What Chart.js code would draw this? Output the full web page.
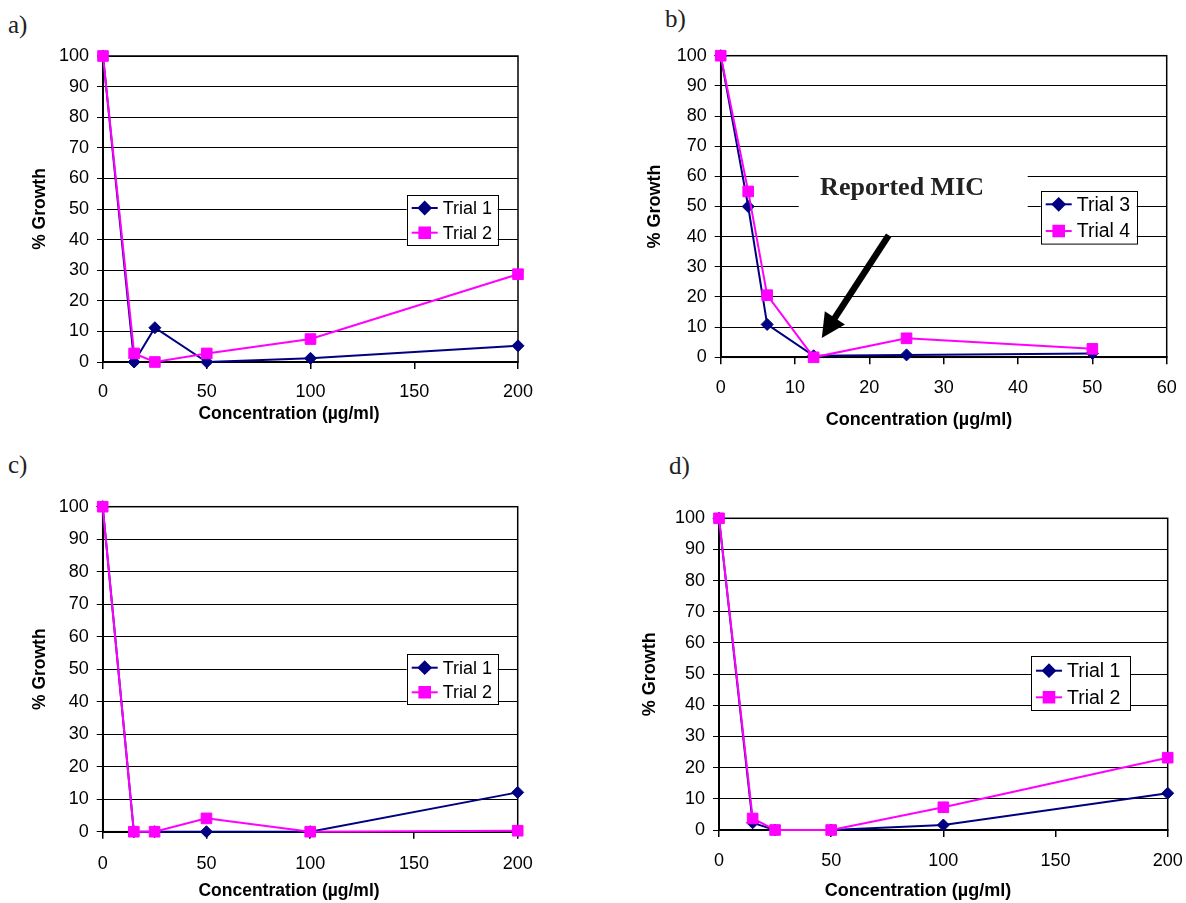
<!DOCTYPE html>
<html>
<head>
<meta charset="utf-8">
<script src="https://cdn.jsdelivr.net/npm/chart.js@4.4.0/dist/chart.umd.min.js"></script>
<style>
  body { margin: 0; background: #fff; width: 1186px; height: 903px; position: relative; overflow: hidden; }
  .panel { position: absolute; }
  .tag { position: absolute; font-family: "Liberation Serif", serif; font-size: 25px; line-height: 25px; color: #222; }
</style>
</head>
<body>
<div class="tag" style="left:8px;top:12px">a)</div>
<div class="tag" style="left:665px;top:6px">b)</div>
<div class="tag" style="left:8px;top:452px">c)</div>
<div class="tag" style="left:669px;top:453px">d)</div>

<canvas id="chartA" class="panel" width="593" height="440" style="left:0;top:0"></canvas>
<canvas id="chartB" class="panel" width="593" height="440" style="left:593px;top:0"></canvas>
<canvas id="chartC" class="panel" width="593" height="463" style="left:0;top:440px"></canvas>
<canvas id="chartD" class="panel" width="593" height="463" style="left:593px;top:440px"></canvas>

<script>
// concentrations (µg/ml)
const conc = [0, 15, 25, 50, 100, 200];
const concB = [0, 3.7, 6.25, 12.5, 25, 50];

// % growth
const aTrial1 = [100, 0, 11.2, 0, 1.2, 5.3];
const aTrial2 = [100, 2.8, 0, 2.8, 7.5, 28.7];
const bTrial3 = [100, 50, 10.9, 0.5, 0.8, 1.3];
const bTrial4 = [100, 55, 20.6, 0, 6.3, 2.8];
const cTrial1 = [100, 0, 0, 0, 0, 12.1];
const cTrial2 = [100, 0, 0, 4.1, 0, 0.3];
const dTrial1 = [100, 2.3, 0, 0, 1.6, 11.8];
const dTrial2 = [100, 3.7, 0, 0, 7.3, 23.2];

// tick labels
const yTicks = [0, 10, 20, 30, 40, 50, 60, 70, 80, 90, 100];
const xTicksWide = [0, 50, 100, 150, 200];
const xTicksB = [0, 10, 20, 30, 40, 50, 60];

const xTitle = 'Concentration (µg/ml)';
const yTitle = '% Growth';

const NAVY = '#000080';
const PINK = '#ff00ff';
const SANS = '"Liberation Sans", Arial, sans-serif';

// Reported MIC label and arrow, in data units of panel b
const micNote = { text: 'Reported MIC', cx: 24.4, cy: 56.1, x0: 10.5, x1: 41.3, y0: 42, y1: 65 };
const micArrow = { from: [22.6, 40.5], to: [13.6, 6.4] };

function pts(xs, ys) {
  return xs.map((x, i) => ({ x: x, y: ys[i] }));
}

// plot frame (top and right edges)
const frame = {
  id: 'frame',
  beforeDatasetsDraw(chart) {
    const { ctx, chartArea: a } = chart;
    ctx.save();
    ctx.strokeStyle = '#000';
    ctx.lineWidth = 1.5;
    ctx.strokeRect(a.left, a.top, a.right - a.left, a.bottom - a.top);
    ctx.restore();
  }
};

// x axis title, centred under the whole panel like the original
const xAxisTitle = {
  id: 'xAxisTitle',
  afterDraw(chart, args, o) {
    const ctx = chart.ctx;
    ctx.save();
    ctx.fillStyle = '#000';
    ctx.font = 'bold ' + o.size + 'px ' + SANS;
    ctx.textAlign = 'center';
    ctx.textBaseline = 'middle';
    ctx.fillText(o.text, o.x, o.y);
    ctx.restore();
  }
};

// boxed legend with line + marker sample
const boxLegend = {
  id: 'boxLegend',
  afterDatasetsDraw(chart, args, o) {
    const ctx = chart.ctx;
    ctx.save();
    ctx.fillStyle = '#fff';
    ctx.fillRect(o.x, o.y, o.w, o.h);
    ctx.strokeStyle = '#000';
    ctx.lineWidth = 1;
    ctx.strokeRect(Math.round(o.x) + 0.5, Math.round(o.y) + 0.5, o.w, o.h);
    chart.data.datasets.forEach((ds, i) => {
      const cy = o.y + o.rowTop + i * o.rowGap;
      ctx.strokeStyle = ds.borderColor;
      ctx.lineWidth = 2;
      ctx.beginPath();
      ctx.moveTo(o.x + 5, cy);
      ctx.lineTo(o.x + 31, cy);
      ctx.stroke();
      ctx.fillStyle = ds.backgroundColor;
      Chart.helpers.drawPoint(ctx, { pointStyle: ds.pointStyle, radius: ds.pointRadius, borderWidth: 1 }, o.x + 18, cy);
      ctx.fillStyle = '#000';
      ctx.font = o.font + 'px ' + SANS;
      ctx.textBaseline = 'middle';
      ctx.textAlign = 'left';
      ctx.fillText(ds.label, o.x + 36, cy + 1);
    });
    ctx.restore();
  }
};

// Reported MIC note with arrow (panel b only)
const micPlugin = {
  id: 'micPlugin',
  beforeDatasetsDraw(chart, args, o) {
    if (!o.show) return;
    const { ctx, scales: { x, y } } = chart;
    ctx.save();
    ctx.fillStyle = '#fff';
    const l = x.getPixelForValue(micNote.x0), r = x.getPixelForValue(micNote.x1);
    const t = y.getPixelForValue(micNote.y1), b = y.getPixelForValue(micNote.y0);
    ctx.fillRect(l, t, r - l, b - t);
    ctx.fillStyle = '#222';
    ctx.font = 'bold 26px "Liberation Serif", serif';
    ctx.textAlign = 'center';
    ctx.textBaseline = 'middle';
    ctx.fillText(micNote.text, x.getPixelForValue(micNote.cx), y.getPixelForValue(micNote.cy));
    ctx.restore();
  },
  afterDatasetsDraw(chart, args, o) {
    if (!o.show) return;
    const { ctx, scales: { x, y } } = chart;
    const sx = x.getPixelForValue(micArrow.from[0]), sy = y.getPixelForValue(micArrow.from[1]);
    const tx = x.getPixelForValue(micArrow.to[0]), ty = y.getPixelForValue(micArrow.to[1]);
    const len = Math.hypot(tx - sx, ty - sy);
    const ux = (tx - sx) / len, uy = (ty - sy) / len;
    const head = 24, half = 12;
    const bx = tx - ux * head, by = ty - uy * head;
    ctx.save();
    ctx.strokeStyle = '#000';
    ctx.fillStyle = '#000';
    ctx.lineWidth = 6.5;
    ctx.beginPath();
    ctx.moveTo(sx, sy);
    ctx.lineTo(bx + ux * 2, by + uy * 2);
    ctx.stroke();
    ctx.beginPath();
    ctx.moveTo(tx, ty);
    ctx.lineTo(bx - uy * half, by + ux * half);
    ctx.lineTo(bx + uy * half, by - ux * half);
    ctx.closePath();
    ctx.fill();
    ctx.restore();
  }
};

function series(label, xs, ys, color, style, radius, order) {
  return {
    label: label,
    data: pts(xs, ys),
    borderColor: color,
    backgroundColor: color,
    borderWidth: 2,
    pointStyle: style,
    pointRadius: radius,
    pointHoverRadius: radius,
    pointBorderWidth: 1,
    tension: 0,
    clip: false,
    order: order
  };
}

function makeChart(id, p) {
  const W = p.w, H = p.h;
  const lh = p.titleSize * 1.2;
  new Chart(document.getElementById(id), {
    type: 'line',
    data: { datasets: p.datasets },
    plugins: [frame, boxLegend, micPlugin, xAxisTitle],
    options: {
      responsive: false,
      animation: false,
      events: [],
      layout: { padding: { left: 0, top: p.area.top, right: W - p.area.right, bottom: 0 } },
      plugins: {
        legend: { display: false },
        tooltip: { enabled: false },
        boxLegend: p.legend,
        micPlugin: { show: !!p.mic },
        xAxisTitle: { text: xTitle, x: p.xTitleX, y: p.xTitleY, size: p.titleSize }
      },
      scales: {
        x: {
          type: 'linear',
          min: p.xTicks[0],
          max: p.xTicks[p.xTicks.length - 1],
          afterBuildTicks: s => { s.ticks = p.xTicks.map(v => ({ value: v })); },
          afterFit: s => { s.height = H - p.area.bottom; s.paddingLeft = 0; s.paddingRight = 0; },
          grid: { drawOnChartArea: false, drawTicks: true, tickLength: 7, color: '#000', lineWidth: 1.5 },
          border: { color: '#000', width: 2 },
          ticks: { color: '#000', font: { family: SANS, size: 18 }, padding: p.xTickPad, maxRotation: 0 }
        },
        y: {
          min: 0,
          max: 100,
          afterBuildTicks: s => { s.ticks = yTicks.map(v => ({ value: v })); },
          afterFit: s => { s.width = p.area.left; s.paddingTop = 0; s.paddingBottom = 0; },
          grid: { drawTicks: true, tickLength: 6, color: '#000', lineWidth: 1 },
          border: { color: '#000', width: 2 },
          ticks: { color: '#000', font: { family: SANS, size: 18 }, padding: 8 },
          title: {
            display: true, text: yTitle, color: '#000',
            font: { family: SANS, size: p.titleSize, weight: 'bold' },
            padding: { top: p.yTitleX - lh / 2, bottom: 0 }
          }
        }
      }
    }
  });
}

makeChart('chartA', {
  w: 593, h: 440,
  area: { left: 103, right: 518, top: 56, bottom: 362 },
  yTitleX: 40, xTitleX: 289, xTitleY: 414, xTickPad: 12, titleSize: 17.5,
  xTicks: xTicksWide,
  datasets: [
    series('Trial 1', conc, aTrial1, NAVY, 'rectRot', 6, 1),
    series('Trial 2', conc, aTrial2, PINK, 'rect', 7.5, 0)
  ],
  legend: { x: 406.7, y: 195, w: 91, h: 50, rowTop: 13, rowGap: 24.7, font: 18 }
});

makeChart('chartB', {
  w: 593, h: 440,
  area: { left: 127.7, right: 573.7, top: 55.7, bottom: 357.3 },
  yTitleX: 62, xTitleX: 326, xTitleY: 420, xTickPad: 13, titleSize: 18,
  xTicks: xTicksB,
  mic: true,
  datasets: [
    series('Trial 3', concB, bTrial3, NAVY, 'rectRot', 6, 1),
    series('Trial 4', concB, bTrial4, PINK, 'rect', 7.5, 0)
  ],
  legend: { x: 447.7, y: 190.7, w: 96, h: 52.6, rowTop: 13.6, rowGap: 26.7, font: 19.5 }
});

makeChart('chartC', {
  w: 593, h: 463,
  area: { left: 102.7, right: 517.7, top: 66.7, bottom: 391.7 },
  yTitleX: 40, xTitleX: 289, xTitleY: 451, xTickPad: 15, titleSize: 17.5,
  xTicks: xTicksWide,
  datasets: [
    series('Trial 1', conc, cTrial1, NAVY, 'rectRot', 6, 1),
    series('Trial 2', conc, cTrial2, PINK, 'rect', 7.5, 0)
  ],
  legend: { x: 406.7, y: 214.3, w: 91, h: 50, rowTop: 13.4, rowGap: 24.6, font: 18 }
});

makeChart('chartD', {
  w: 593, h: 463,
  area: { left: 126, right: 574.7, top: 78.3, bottom: 390 },
  yTitleX: 57, xTitleX: 325, xTitleY: 451, xTickPad: 13, titleSize: 18,
  xTicks: xTicksWide,
  datasets: [
    series('Trial 1', conc, dTrial1, NAVY, 'rectRot', 6, 1),
    series('Trial 2', conc, dTrial2, PINK, 'rect', 7.5, 0)
  ],
  legend: { x: 438, y: 216, w: 99, h: 54, rowTop: 14.7, rowGap: 26.6, font: 19.5 }
});
</script>
</body>
</html>
